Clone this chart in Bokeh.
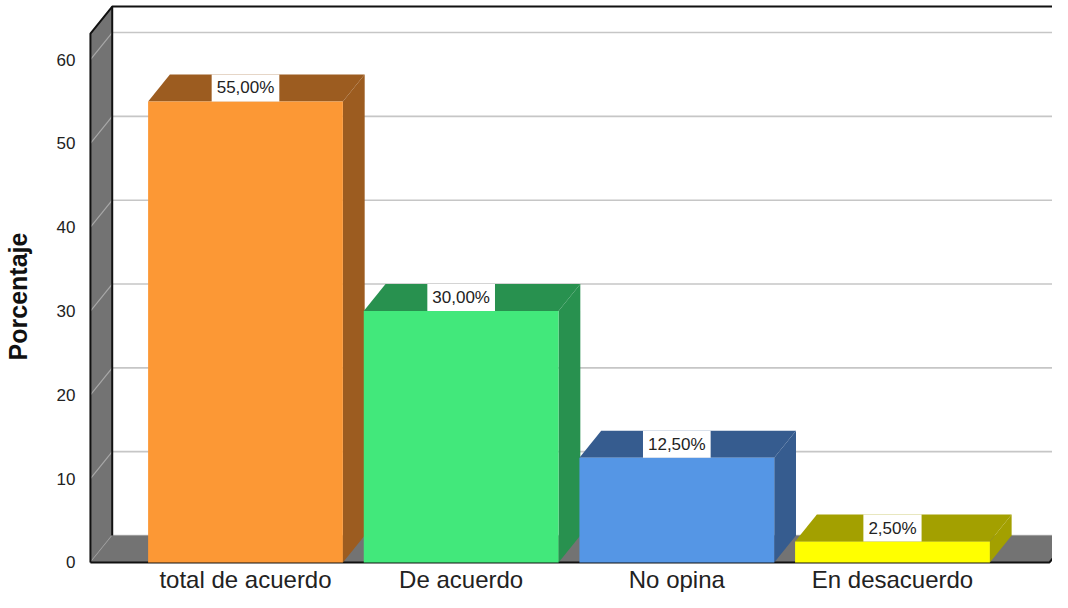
from bokeh.plotting import figure
from bokeh.models import FixedTicker
from bokeh.core.properties import value
from bokeh.embed import file_html
from bokeh.resources import INLINE

# ---- data ----
categories = ["total de acuerdo", "De acuerdo", "No opina", "En desacuerdo"]
percentages = [55.0, 30.0, 12.5, 2.5]
y_ticks = [0, 10, 20, 30, 40, 50, 60]
front_colors = ["#FC9835", "#42E87B", "#5596E5", "#FFFF00"]
side_colors = ["#9C5C20", "#28914F", "#365C8F", "#A3A000"]

# ---- layout constants (data units) ----
X_LEFT, X_RIGHT = 0.272, 4.742
Y_BOTTOM, Y_TOP = -3.58, 67.04
DX, DY = 0.101, 3.22          # 3D depth offset
HW = 0.4516                   # half bar width
WALL_X0 = 0.281               # front edge of left wall
WALL_X1 = 4.728               # front right end of floor
WALL_TOP = 63.1               # top of walls (front coordinates)
Y_LABEL = -2.05
FONT = "Liberation Sans"
WALL_GRAY = "#737373"

p = figure(width=1052, height=592, x_range=(X_LEFT, X_RIGHT), y_range=(Y_BOTTOM, Y_TOP),
           output_backend="svg", toolbar_location=None, x_axis_location=None,
           min_border_left=82, min_border_right=0, min_border_top=0, min_border_bottom=0)
p.grid.visible = False
p.outline_line_color = None
p.background_fill_color = "white"

# back wall gridlines
p.segment(x0=[WALL_X0 + DX] * len(y_ticks), y0=[t + DY for t in y_ticks],
          x1=[X_RIGHT + 1] * len(y_ticks), y1=[t + DY for t in y_ticks],
          line_color="#C6C6C6", line_width=1.6)

# left wall
p.patch(x=[WALL_X0, WALL_X0, WALL_X0 + DX, WALL_X0 + DX],
        y=[0, WALL_TOP, WALL_TOP + DY, DY], fill_color=WALL_GRAY, line_color=None)
p.segment(x0=[WALL_X0] * len(y_ticks), y0=y_ticks,
          x1=[WALL_X0 + DX] * len(y_ticks), y1=[t + DY for t in y_ticks],
          line_color="#A8A8A8", line_width=1.2)

# floor
p.patch(x=[WALL_X0, WALL_X1, WALL_X1 + DX, WALL_X0 + DX],
        y=[0, 0, DY, DY], fill_color=WALL_GRAY, line_color=None)

# black frame edges
p.multi_line(xs=[[WALL_X0, WALL_X0, WALL_X0 + DX, X_RIGHT + 1],
                 [WALL_X0 + DX, WALL_X0 + DX],
                 [WALL_X0, WALL_X1, WALL_X1 + DX]],
             ys=[[0, WALL_TOP, WALL_TOP + DY, WALL_TOP + DY],
                 [DY, WALL_TOP + DY],
                 [0, 0, DY]],
             line_color="#111111", line_width=2)

# bars
xs_c = [i + 1 for i in range(len(categories))]
side_xs, side_ys, top_xs, top_ys = [], [], [], []
for x, v in zip(xs_c, percentages):
    side_xs.append([x + HW, x + HW, x + HW + DX, x + HW + DX])
    side_ys.append([0, v, v + DY, DY])
    top_xs.append([x - HW, x + HW, x + HW + DX, x - HW + DX])
    top_ys.append([v, v, v + DY, v + DY])
p.patches(xs=side_xs, ys=side_ys, fill_color=side_colors, line_color=None)
p.patches(xs=top_xs, ys=top_ys, fill_color=side_colors, line_color=None)
p.quad(left=[x - HW for x in xs_c], right=[x + HW for x in xs_c],
       bottom=0, top=percentages, fill_color=front_colors, line_color=None)

# value labels
labels = [f"{v:.2f}".replace(".", ",") + "%" for v in percentages]
p.text(x=xs_c, y=[v + DY / 2 for v in percentages], text=labels,
       text_align="center", text_baseline="middle", text_font=value(FONT),
       text_font_size="17px", text_color="#222222",
       background_fill_color="white", padding=(5, 4))

# category labels
p.text(x=xs_c, y=[Y_LABEL] * len(xs_c), text=categories,
       text_align="center", text_baseline="alphabetic", text_font=value(FONT),
       text_font_size="24px", text_color="#222222")

# y axis
ax = p.yaxis[0]
ax.ticker = FixedTicker(ticks=y_ticks)
ax.axis_line_color = None
ax.major_tick_line_color = None
ax.minor_tick_line_color = None
ax.major_label_standoff = 7
ax.major_label_text_font = FONT
ax.major_label_text_font_size = "17px"
ax.major_label_text_color = "#222222"
ax.axis_label = "Porcentaje"
ax.axis_label_text_font = FONT
ax.axis_label_text_font_style = "bold"
ax.axis_label_text_font_size = "25px"
ax.axis_label_text_color = "#111111"
ax.axis_label_standoff = 22

open("out.html", "w").write(file_html(p, INLINE))
